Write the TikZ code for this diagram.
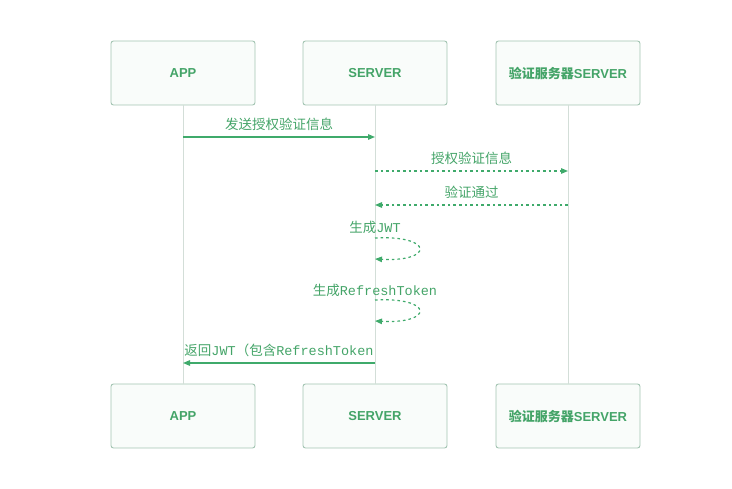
\documentclass[tikz,border=0pt]{standalone}
\usepackage{fontspec}
\setmainfont{Liberation Sans}
\newfontfamily\cjk{Noto Sans CJK SC}
\newfontfamily\mono{Liberation Mono}
\usetikzlibrary{arrows.meta}
\definecolor{boxline}{HTML}{A3C4B2}
\definecolor{boxfill}{HTML}{F9FCFA}
\definecolor{txtgreen}{HTML}{44A468}
\definecolor{msggreen}{HTML}{3FAA6B}
\definecolor{lifegray}{HTML}{D3DED8}
\begin{document}
\begin{tikzpicture}[x=1pt,y=-1pt,
  actor/.style={draw=boxline, fill=boxfill, line width=0.9pt, rounded corners=2.5pt,
    minimum width=144pt, minimum height=64pt, inner sep=0pt,
    text=txtgreen, font=\fontsize{13}{15}\selectfont},
  lifeline/.style={draw=lifegray, line width=0.9pt},
  msg/.style={draw=msggreen, line width=1.2pt, -{Triangle[length=7pt,width=5.5pt]}},
  reply/.style={msg, dash pattern=on 2.6pt off 3pt},
  msglabel/.style={text=txtgreen, font=\fontsize{13.5}{15}\selectfont, inner sep=0pt}]
\useasboundingbox (0,0) rectangle (732,489);

% participants, top and bottom
\node[actor] (appT) at (183,73) {\textbf{APP}};
\node[actor] (srvT) at (375,73) {\textbf{SERVER}};
\node[actor] (authT) at (568,73) {{\cjk\bfseries 验证服务器}\textbf{SERVER}};
\node[actor] (appB) at (183,416) {\textbf{APP}};
\node[actor] (srvB) at (375,416) {\textbf{SERVER}};
\node[actor] (authB) at (568,416) {{\cjk\bfseries 验证服务器}\textbf{SERVER}};

% lifelines
\draw[lifeline] (appT) -- (appB);
\draw[lifeline] (srvT) -- (srvB);
\draw[lifeline] (authT) -- (authB);

% message anchor points on the lifelines
\coordinate (a1) at (appT.south |- 0,137);
\coordinate (s1) at (srvT.south |- 0,137);
\coordinate (s2) at (srvT.south |- 0,171);
\coordinate (v2) at (authT.south |- 0,171);
\coordinate (v3) at (authT.south |- 0,205);
\coordinate (s3) at (srvT.south |- 0,205);
\coordinate (s4) at (srvT.south |- 0,238);
\coordinate (s5) at (srvT.south |- 0,259);
\coordinate (s6) at (srvT.south |- 0,300);
\coordinate (s7) at (srvT.south |- 0,321);
\coordinate (s8) at (srvT.south |- 0,363);
\coordinate (a8) at (appT.south |- 0,363);

% messages
\draw[msg] (a1) -- node[msglabel, above=6pt] {\cjk 发送授权验证信息} (s1);
\draw[reply] (s2) -- node[msglabel, above=6pt] {\cjk 授权验证信息} (v2);
\draw[reply] (v3) -- node[msglabel, above=6pt] {\cjk 验证通过} (s3);

\node[msglabel] (l4) at (375,227) {{\cjk 生成}{\mono JWT}};
\draw[reply] (s4) .. controls (434,235) and (434,262) .. (s5);

\node[msglabel] (l6) at (375,290) {{\cjk 生成}{\mono RefreshToken}};
\draw[reply] (s6) .. controls (434,297) and (434,324) .. (s7);

\draw[msg] (s8) -- node[msglabel, above=6pt] {{\cjk 返回}{\mono JWT}{\cjk （包含}{\mono RefreshToken}} (a8);
\end{tikzpicture}
\end{document}
